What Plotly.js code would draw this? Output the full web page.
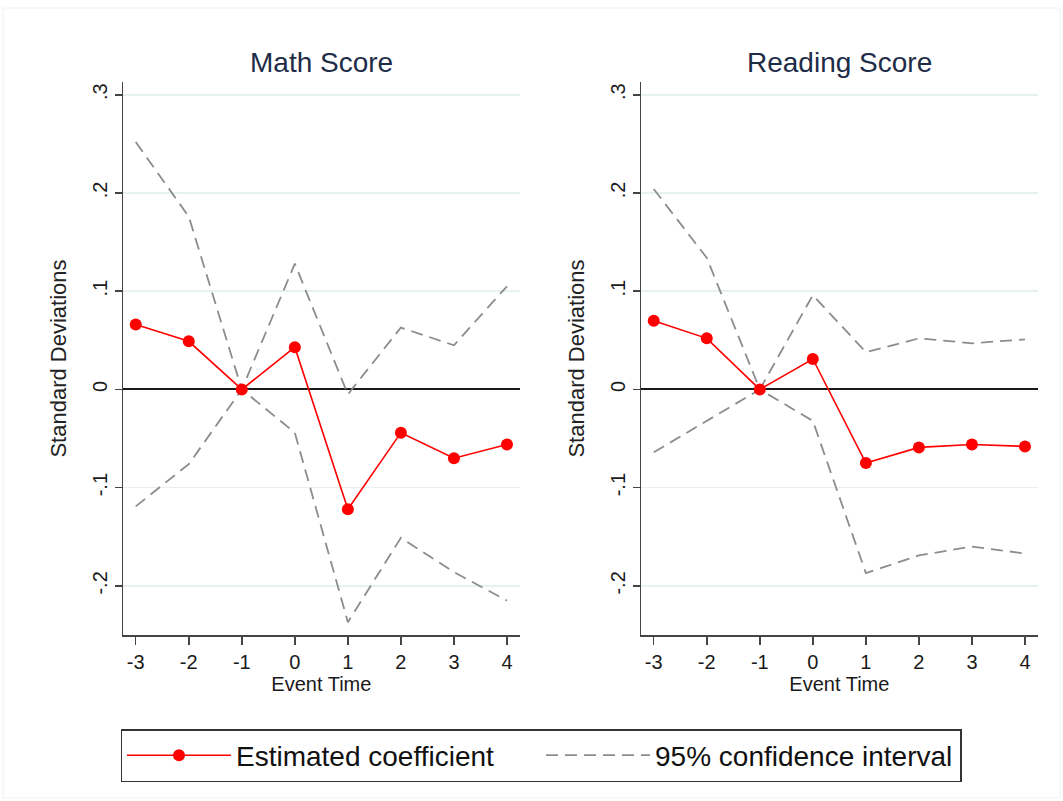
<!DOCTYPE html>
<html>
<head>
<meta charset="utf-8">
<script src="https://cdn.plot.ly/plotly-3.0.1.min.js"></script>
<style>html,body{margin:0;padding:0;background:#fff;}#chart{width:1063px;height:801px;}</style>
</head>
<body>
<div id="chart"></div>
<script>
// ---- data ----
const eventTime = [-3, -2, -1, 0, 1, 2, 3, 4];
const xTickLabels = ['-3', '-2', '-1', '0', '1', '2', '3', '4'];
const yTickVals = [-0.2, -0.1, 0, 0.1, 0.2, 0.3];
const yTickText = ['-.2', '-.1', '0', '.1', '.2', '.3'];

const mathEst   = [0.066, 0.049, 0, 0.043, -0.122, -0.044, -0.070, -0.056];
const mathUpper = [0.252, 0.176, 0, 0.128, -0.005, 0.063, 0.045, 0.105];
const mathLower = [-0.119, -0.076, 0, -0.044, -0.237, -0.151, -0.186, -0.215];

const readEst   = [0.070, 0.052, 0, 0.031, -0.075, -0.059, -0.056, -0.058];
const readUpper = [0.204, 0.134, 0, 0.096, 0.038, 0.052, 0.047, 0.051];
const readLower = [-0.064, -0.032, 0, -0.032, -0.187, -0.169, -0.160, -0.167];

const panelTitles = ['Math Score', 'Reading Score'];
const seriesNames = ['Estimated coefficient', '95% confidence interval'];

// ---- styles ----
const FONT = 'Liberation Sans, Arial, sans-serif';
const W = 1063, H = 801;
const ciLine = {color: '#8c8c8c', width: 1.8, dash: '12px,7px'};
const estLine = {color: '#ff0000', width: 1.6};
const estMarker = {color: '#ff0000', size: 12};

function ciTrace(y, xa, ya, show) {
  return {x: eventTime, y: y, xaxis: xa, yaxis: ya, type: 'scatter', mode: 'lines',
    line: ciLine, name: seriesNames[1], showlegend: show, legendrank: 2, hoverinfo: 'skip'};
}
function estTrace(y, xa, ya, show) {
  return {x: eventTime, y: y, xaxis: xa, yaxis: ya, type: 'scatter', mode: 'lines+markers',
    line: estLine, marker: estMarker, name: seriesNames[0], showlegend: show, legendrank: 1};
}

const data = [
  ciTrace(mathUpper, 'x', 'y', true),
  ciTrace(mathLower, 'x', 'y', false),
  estTrace(mathEst, 'x', 'y', true),
  ciTrace(readUpper, 'x2', 'y2', false),
  ciTrace(readLower, 'x2', 'y2', false),
  estTrace(readEst, 'x2', 'y2', false)
];

function xAxis(domain, anchor) {
  return {
    domain: domain, anchor: anchor, range: [-3.24, 4.24],
    tickvals: eventTime, ticktext: xTickLabels,
    ticks: 'outside', ticklen: 8, tickwidth: 1.5, tickcolor: '#444',
    showline: true, linecolor: '#444', linewidth: 1.5,
    showgrid: false, zeroline: false,
    tickfont: {family: FONT, size: 20, color: '#1a1a1a'},
    title: {text: 'Event Time', font: {family: FONT, size: 20, color: '#1a1a1a'}, standoff: 0}
  };
}
function yAxis(domain, anchor) {
  return {
    domain: domain, anchor: anchor, range: [-0.25, 0.313],
    tickvals: yTickVals, ticktext: yTickText, tickangle: -90,
    ticks: 'outside', ticklen: 7, tickwidth: 1.5, tickcolor: '#444',
    showline: true, linecolor: '#444', linewidth: 1.5,
    showgrid: true, gridcolor: '#e8f1f2', gridwidth: 1.5,
    zeroline: true, zerolinecolor: '#1a1a1a', zerolinewidth: 2,
    tickfont: {family: FONT, size: 20, color: '#1a1a1a'},
    title: {text: 'Standard Deviations', font: {family: FONT, size: 22, color: '#222'}, standoff: 16}
  };
}

const yDom = [1 - 635 / H, 1 - 82 / H];
const layout = {
  width: W, height: H,
  margin: {l: 0, r: 0, t: 0, b: 0},
  paper_bgcolor: '#ffffff', plot_bgcolor: '#ffffff',
  font: {family: FONT, color: '#1a1a1a'},
  xaxis: xAxis([123 / W, 519.7 / W], 'y'),
  yaxis: yAxis(yDom, 'x'),
  xaxis2: xAxis([641 / W, 1037.7 / W], 'y2'),
  yaxis2: yAxis(yDom, 'x2'),
  showlegend: true,
  legend: {
    orientation: 'h', x: 541 / W, xanchor: 'center', y: 1 - 729 / H, yanchor: 'top',
    bordercolor: '#333', borderwidth: 1.5, bgcolor: '#ffffff',
    font: {family: FONT, size: 28, color: '#111'},
    itemwidth: 104, entrywidth: 300, traceorder: 'normal'
  },
  annotations: [
    {text: panelTitles[0], xref: 'x domain', yref: 'paper', x: 0.5, y: 1 - 63 / H,
     xanchor: 'center', yanchor: 'middle', showarrow: false,
     font: {family: FONT, size: 28, color: '#1e2c48'}},
    {text: panelTitles[1], xref: 'x2 domain', yref: 'paper', x: 0.5, y: 1 - 63 / H,
     xanchor: 'center', yanchor: 'middle', showarrow: false,
     font: {family: FONT, size: 28, color: '#1e2c48'}}
  ],
  shapes: [
    {type: 'rect', xref: 'paper', yref: 'paper', x0: 3 / W, x1: 1060 / W, y0: 0.004, y1: 1 - 8 / H,
     line: {color: '#f0f0f0', width: 1}, layer: 'below'}
  ]
};

Plotly.newPlot('chart', data, layout, {displayModeBar: false, staticPlot: true});
</script>
</body>
</html>
